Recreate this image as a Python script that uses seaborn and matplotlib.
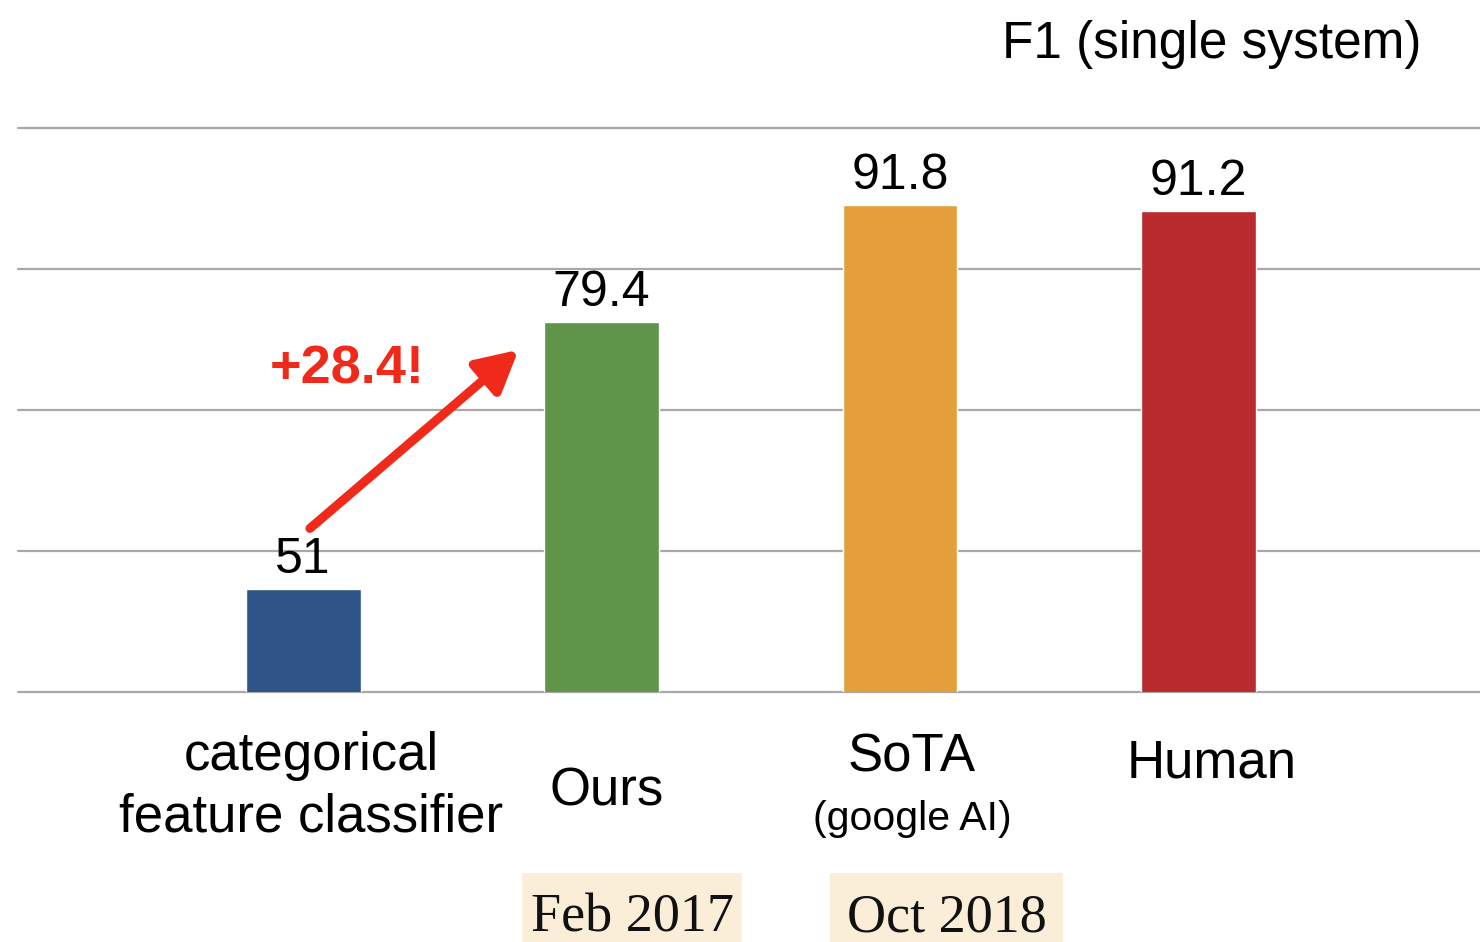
import matplotlib
matplotlib.use("Agg")
import matplotlib.pyplot as plt
import seaborn as sns
from matplotlib.patches import Rectangle

# ---- data ----
categories = ["categorical\nfeature classifier", "Ours", "SoTA", "Human"]
sublabels = ["", "", "(google AI)", ""]
values = [51, 79.4, 91.8, 91.2]
value_labels = ["51", "79.4", "91.8", "91.2"]
colors = ["#2f5588", "#5e9548", "#e49f3c", "#b92b2f"]
dates = ["Feb 2017", "Oct 2018"]
gain_label = "+28.4!"
title = "F1 (single system)"
grid_ticks = [40, 55, 70, 85, 100]

sns.set_style("white")
plt.rcParams["font.family"] = ["Liberation Sans", "DejaVu Sans"]

W, H = 1480, 942
fig = plt.figure(figsize=(W / 100, H / 100), dpi=100)
ax = fig.add_axes([18 / W, 250 / H, 1462 / W, 564 / H])

sns.barplot(x=categories, y=values, hue=categories, palette=colors,
            width=0.385, saturation=1, legend=False, ax=ax, zorder=3)

ax.set_xlim(-0.955, 3.943)
ax.set_ylim(grid_ticks[0], grid_ticks[-1])
ax.set_yticks(grid_ticks)
ax.yaxis.grid(True, color="#a8a8a8", lw=1.6)
ax.xaxis.grid(False)
for gl in ax.get_ygridlines():
    gl.set_clip_on(False)
ax.set_axisbelow(True)
ax.tick_params(left=False, bottom=False, labelleft=False, labelbottom=False)
for s in ax.spines.values():
    s.set_visible(False)
ax.set_xlabel("")
ax.set_ylabel("")

# value labels
for i, (v, lab) in enumerate(zip(values, value_labels)):
    ax.annotate(lab, xy=(i, v), xytext=(0, 16), textcoords="offset pixels",
                ha="center", va="baseline", fontsize=36, color="black")

# category labels (pixel offsets from the baseline of the axes)
cat_layout = [
    (8, [-78, -140]),
    (5, [-114]),
    (12, [-80]),
    (13, [-85]),
]
for i, (cat, (dx, dys)) in enumerate(zip(categories, cat_layout)):
    lines = cat.split("\n")
    for line, dy in zip(lines, dys):
        ax.annotate(line, xy=(i, 0), xycoords=("data", "axes fraction"),
                    xytext=(dx, dy), textcoords="offset pixels",
                    ha="center", va="baseline", fontsize=38, color="black",
                    annotation_clip=False)
    if sublabels[i]:
        ax.annotate(sublabels[i], xy=(i, 0), xycoords=("data", "axes fraction"),
                    xytext=(dx, -138), textcoords="offset pixels",
                    ha="center", va="baseline", fontsize=29.5, color="black",
                    annotation_clip=False)

# arrow from the first bar towards the second, and the gain label
ax.annotate("", xy=(0.722, 76.4), xytext=(0.023, 57.4),
            arrowprops=dict(arrowstyle="-|>,head_length=0.62,head_width=0.33",
                            color="#f02a1a", lw=6.5, mutation_scale=40,
                            shrinkA=0, shrinkB=0),
            annotation_clip=False)
ax.text(0.147, 72.8, gain_label, ha="center", va="baseline", fontsize=39,
        fontweight="bold", color="#f02a1a")

# date boxes under "Ours" and "SoTA"
date_boxes = [(522, 742), (830, 1063)]
for (x0, x1), d in zip(date_boxes, dates):
    fig.patches.append(Rectangle((x0 / W, 0), (x1 - x0) / W, (942 - 873) / H,
                                 transform=fig.transFigure, facecolor="#fbeed8",
                                 edgecolor="none", zorder=0))
    fig.text((x0 + x1) / 2 / W, 1 - 931 / H, d, ha="center", va="baseline",
             fontsize=39, family=["Liberation Serif", "DejaVu Serif"],
             color="#111111")

# title
fig.text(1212 / W, 1 - 58 / H, title, ha="center", va="baseline",
         fontsize=37, color="black")

fig.savefig("out.png", dpi=100)
